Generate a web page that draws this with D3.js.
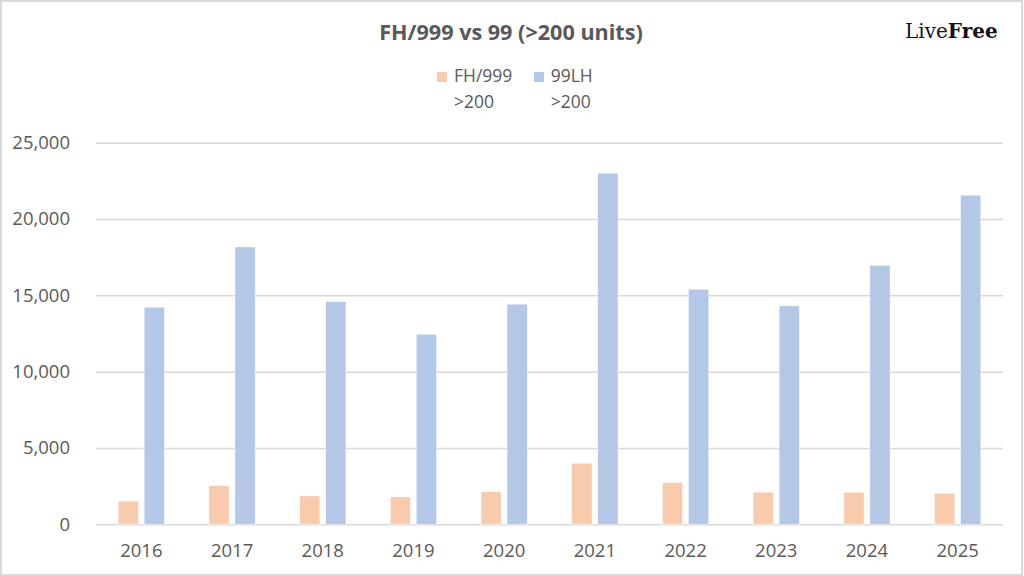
<!DOCTYPE html>
<html>
<head>
<meta charset="utf-8">
<script src="https://cdn.jsdelivr.net/npm/d3@7"></script>
<style>
  body { margin: 0; background: #fff; }
  svg { display: block; }
</style>
</head>
<body>
<svg id="chart" width="1024" height="576"></svg>
<script>
'use strict';

const years = ["2016", "2017", "2018", "2019", "2020", "2021", "2022", "2023", "2024", "2025"];
const fh999 = [1520, 2530, 1860, 1790, 2140, 4000, 2730, 2100, 2100, 2030];
const lh99 = [14220, 18170, 14590, 12450, 14420, 23000, 15400, 14310, 16970, 21560];
const seriesNames = ["FH/999", "99LH"];
const seriesColors = ["#F8CBAD", "#B4C7E7"];
const yTicks = [0, 5000, 10000, 15000, 20000, 25000];

const LEFT = 96, RIGHT = 1003, TOP = 142.7, BOTTOM = 524.3;
const GREY = "#595959";
const FONT = "'Open Sans', 'Liberation Sans', sans-serif";

const svg = d3.select("#chart");

// chart frame
svg.append("rect")
    .attr("x", 1).attr("y", 1)
    .attr("width", 1021).attr("height", 574)
    .attr("fill", "#fff")
    .attr("stroke", "#d9d9d9")
    .attr("stroke-width", 2);

const x0 = d3.scaleBand().domain(years).range([LEFT, RIGHT]);
const x1 = d3.scaleBand().domain(seriesNames).range([0, 46.3]).paddingInner(0.22);
const y = d3.scaleLinear().domain([0, 25000]).range([BOTTOM, TOP]);

// gridlines + y labels
const yAxis = d3.axisLeft(y)
    .tickValues(yTicks)
    .tickSize(-(RIGHT - LEFT))
    .tickPadding(26)
    .tickFormat(d3.format(","));

const gy = svg.append("g")
    .attr("transform", "translate(" + LEFT + ",0)")
    .call(yAxis);
gy.select(".domain").remove();
gy.selectAll(".tick line").attr("stroke", "#d9d9d9").attr("stroke-width", 1.5);
gy.selectAll(".tick text")
    .attr("fill", GREY)
    .attr("font-family", FONT)
    .attr("font-size", 18.5);

// x labels
const xAxis = d3.axisBottom(x0).tickSize(0).tickPadding(20);
const gx = svg.append("g")
    .attr("transform", "translate(0," + BOTTOM + ")")
    .call(xAxis);
gx.select(".domain").remove();
gx.selectAll(".tick text")
    .attr("fill", GREY)
    .attr("font-family", FONT)
    .attr("font-size", 18.5);

// bars
const rows = years.map((yr, i) => ({ year: yr, values: [fh999[i], lh99[i]] }));
const groupOffset = (x0.bandwidth() - 46.3) / 2;

const groups = svg.append("g")
    .selectAll("g")
    .data(rows)
    .enter()
    .append("g")
    .attr("transform", d => "translate(" + (x0(d.year) + groupOffset) + ",0)");

groups.selectAll("rect")
    .data(d => d.values.map((v, k) => ({ key: seriesNames[k], value: v, color: seriesColors[k] })))
    .enter()
    .append("rect")
    .attr("x", d => x1(d.key))
    .attr("y", d => y(d.value))
    .attr("width", x1.bandwidth())
    .attr("height", d => BOTTOM - y(d.value))
    .attr("fill", d => d.color)
    .attr("stroke", "#fff")
    .attr("stroke-opacity", 0.6)
    .attr("stroke-width", 0.8);

// title
svg.append("text")
    .attr("x", 511).attr("y", 40)
    .attr("text-anchor", "middle")
    .attr("fill", GREY)
    .attr("font-family", FONT)
    .attr("font-weight", "bold")
    .attr("font-size", 21.6)
    .text("FH/999 vs 99 (>200 units)");

// legend
const legendX = [437, 534];
const legend = svg.append("g")
    .selectAll("g")
    .data(seriesNames)
    .enter()
    .append("g")
    .attr("transform", (d, i) => "translate(" + legendX[i] + ",72)");

legend.append("rect")
    .attr("width", 10).attr("height", 10)
    .attr("fill", (d, i) => seriesColors[i]);

const legendText = legend.append("text")
    .attr("x", (d, i) => i == 0 ? 17 : 16.7)
    .attr("y", 10.3)
    .attr("fill", GREY)
    .attr("font-family", FONT)
    .attr("font-size", 17.5);
legendText.append("tspan").text(d => d);
legendText.append("tspan")
    .attr("x", (d, i) => i == 0 ? 17 : 16.7)
    .attr("dy", 26)
    .text(">200");

// logo
const logo = svg.append("text")
    .attr("x", 905).attr("y", 38)
    .attr("fill", "#111")
    .attr("font-family", "'DejaVu Serif', serif")
    .attr("font-size", 20);
logo.append("tspan").text("Live");
logo.append("tspan").attr("font-weight", "bold").text("Free");
</script>
</body>
</html>
